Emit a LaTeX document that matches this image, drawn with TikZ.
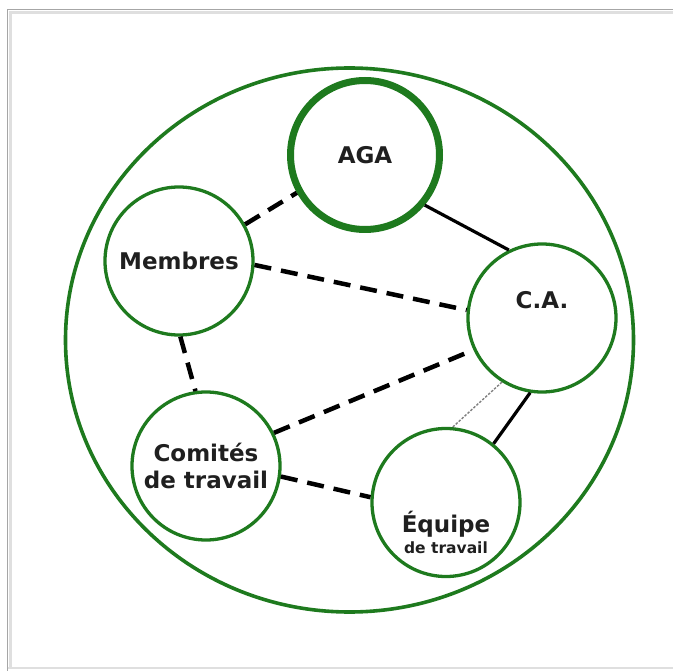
\documentclass[tikz,border=0pt]{standalone}
\usepackage{fontspec}
\setmainfont{DejaVu Sans}
\usetikzlibrary{shapes.geometric}
\definecolor{vert}{RGB}{30,122,30}

\begin{document}
\begin{tikzpicture}[x=1pt,y=-1pt,
every node/.style={font=\bfseries\fontsize{23}{27}\selectfont,text=black!88},
rond/.style={circle,draw=vert,line width=3.3pt,minimum size=148pt,inner sep=0pt,align=center},
tirets/.style={line width=4.5pt,dash pattern=on 17pt off 10pt},
plein/.style={line width=3.2pt},
fin/.style={gray,line width=1.4pt,dash pattern=on 2.5pt off 1.5pt}]

\useasboundingbox (0,0) rectangle (673,671);
\draw[gray!25,line width=3pt] (10.5,668) -- (10.5,12.5) -- (673,12.5);
\draw[gray!70,line width=1.2pt] (7.5,671) -- (7.5,9.5) -- (673,9.5);
\draw[gray!25,line width=2pt] (7.5,668) -- (673,668);

\node[ellipse,draw=vert,line width=3.6pt,minimum width=568pt,minimum height=544pt] (asso) at (349.5,340) {};

\node[rond,line width=7pt,minimum size=149pt] (aga) at (365,155) {AGA};
\node[rond] (membres) at (179,261) {Membres};
\node[rond,label={[yshift=18pt]center:C.A.}] (ca) at (542,318) {};
\node[rond] (comites) at (206,466) {Comités\\de travail};
\node[rond,label={[yshift=-22pt]center:Équipe},
  label={[yshift=-45pt,font=\bfseries\fontsize{15.5}{15.5}\selectfont]center:de travail}] (equipe) at (446,502.5) {};

\draw[tirets] (membres.29) -- (aga.209);
\draw[plein] (aga.-40) -- (ca.116);
\draw[tirets] (membres.-3) -- (ca.174);
\draw[tirets] (membres.-89) -- (comites.98);
\draw[tirets] (comites.26) -- (ca.205);
\draw[tirets] (comites.-8) -- (equipe.176);
\draw[plein] (ca.-99) -- (equipe.51);
\draw[fin] (ca.238) -- (equipe.85);

\end{tikzpicture}
\end{document}
